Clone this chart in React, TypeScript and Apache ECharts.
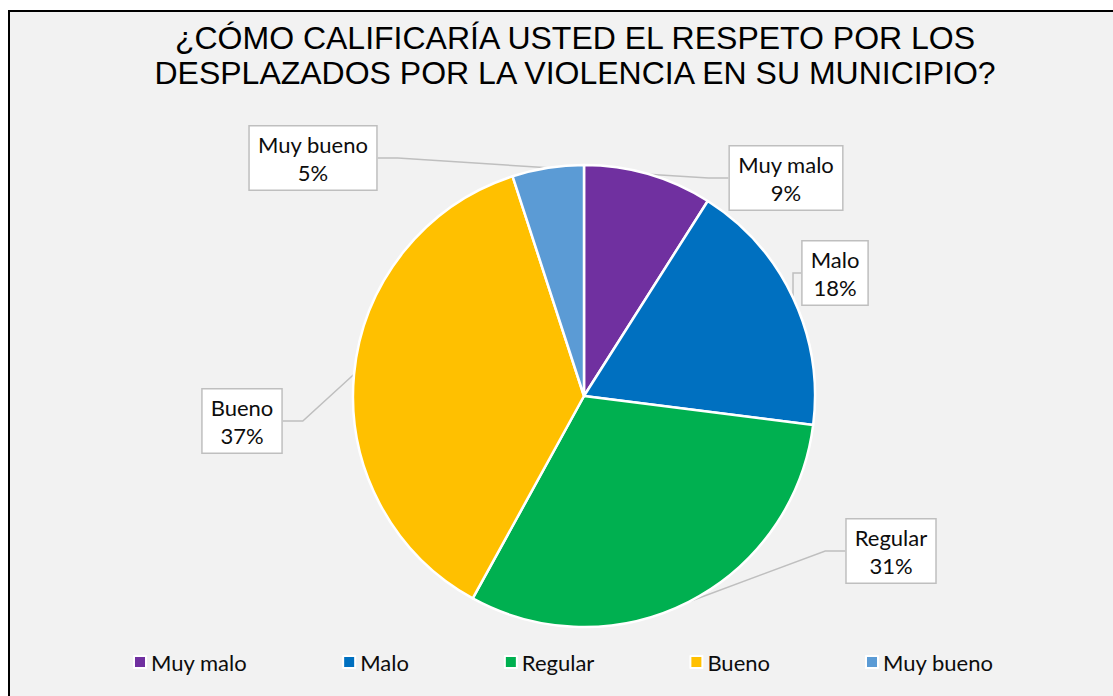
import React, { useEffect, useRef } from "react";
import * as echarts from "echarts";

const titleLines = ["¿CÓMO CALIFICARÍA USTED EL RESPETO POR LOS", "DESPLAZADOS POR LA VIOLENCIA EN SU MUNICIPIO?"];
const categories = ["Muy malo", "Malo", "Regular", "Bueno", "Muy bueno"];
const values = [9, 18, 31, 37, 5];
const colors = ["#7030a0", "#0070c0", "#00b050", "#ffc000", "#5b9bd5"];
// label box centres (layout only)
const labelPos: [number, number][] = [
  [786, 178],
  [835, 273],
  [891, 551],
  [242, 421],
  [313, 158],
];

export default function App() {
  const ref = useRef<HTMLDivElement>(null);
  useEffect(() => {
    if (!ref.current) return;
    const chart = echarts.init(ref.current, null, { renderer: "svg" });
    const font = "Lato, 'Open Sans', sans-serif";
    chart.setOption({
      animation: false,
      backgroundColor: "transparent",
      title: {
        text: titleLines.join("\n"),
        left: 570,
        top: 15,
        textAlign: "center",
        textStyle: {
          fontFamily: "'Liberation Sans', Arial, sans-serif",
          fontWeight: "normal",
          fontSize: 32,
          lineHeight: 35,
          color: "#000000",
        },
      },
      legend: {
        data: categories,
        bottom: 18,
        left: 128,
        icon: "rect",
        itemWidth: 12,
        itemHeight: 12,
        itemGap: 95,
        itemStyle: { borderColor: "#ffffff", borderWidth: 2 },
        textStyle: { fontFamily: font, fontSize: 22, color: "#0d0d0d" },
      },
      series: [
        {
          type: "pie",
          center: [584, 396],
          radius: 231,
          startAngle: 90,
          clockwise: true,
          data: categories.map((c, i) => ({
            name: c,
            value: values[i],
            itemStyle: { color: colors[i] },
          })),
          itemStyle: { borderColor: "#ffffff", borderWidth: 2.5 },
          label: {
            show: true,
            position: "outside",
            formatter: (p: any) => `${p.name}\n${p.value}%`,
            fontFamily: font,
            fontSize: 22,
            lineHeight: 28,
            color: "#0d0d0d",
            align: "center",
            backgroundColor: "#ffffff",
            borderColor: "#bfbfbf",
            borderWidth: 1.5,
            padding: [4, 8, 3, 8],
          },
          labelLine: {
            show: true,
            length: 20,
            length2: 20,
            lineStyle: { color: "#bfbfbf", width: 1.5 },
          },
          labelLayout: (params: any) => {
            const pos = labelPos[params.dataIndex];
            return {
              x: pos[0],
              y: pos[1],
              align: "center",
              verticalAlign: "middle",
            };
          },
        },
      ],
    });
    return () => chart.dispose();
  }, []);
  return (
    <div style={{ position: "absolute", left: 0, top: 0, width: 1113, height: 696, overflow: "hidden" }}>
      <div
        style={{
          position: "absolute",
          left: 8,
          top: 10,
          width: 1105,
          height: 686,
          boxSizing: "border-box",
          borderTop: "2px solid #000",
          borderLeft: "2px solid #000",
          background: "#f2f2f2",
        }}
      />
      <div ref={ref} style={{ position: "absolute", left: 0, top: 0, width: 1113, height: 696 }} />
    </div>
  );
}
